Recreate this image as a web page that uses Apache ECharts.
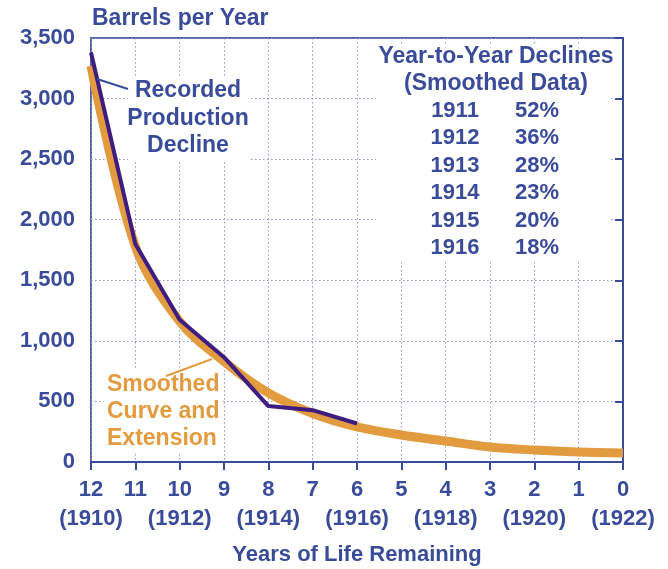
<!DOCTYPE html>
<html>
<head>
<meta charset="utf-8">
<script src="https://cdn.jsdelivr.net/npm/echarts@6/dist/echarts.min.js"></script>
<style>
  html, body { margin: 0; padding: 0; background: #fff; }
  #main { width: 668px; height: 569px; }
</style>
</head>
<body>
<div id="main"></div>
<script>
// years of life remaining (x axis, drawn right to left)
var yearsLeft = [12, 11, 10, 9, 8, 7, 6, 5, 4, 3, 2, 1, 0];
var calendarLabels = ['(1910)', '', '(1912)', '', '(1914)', '', '(1916)', '', '(1918)', '', '(1920)', '', '(1922)'];

// recorded production 1910-1916
var recordedYears = [12, 11, 10, 9, 8, 7, 6];
var recorded = [3380, 1800, 1175, 865, 462, 428, 318];

// smoothed curve and extension 1910-1922
var smoothed = [3270, 1780, 1160, 830, 570, 400, 289, 223, 173, 124, 99, 83, 74];

// table of year-to-year declines
var declineYears = ['1911', '1912', '1913', '1914', '1915', '1916'];
var declinePct = ['52%', '36%', '28%', '23%', '20%', '18%'];

var blue = '#394b99';
var orange = '#e39b40';
var purple = '#3e1c80';
var font = '"Liberation Sans", Arial, sans-serif';

window.onload = function () {
    var myChart = echarts.init(document.getElementById('main'));

    var recordedData = recordedYears.map(function (x, i) { return [x, recorded[i]]; });
    var smoothedData = yearsLeft.map(function (x, i) { return [x, smoothed[i]]; });

    var graphics = [];
    // title of y axis
    graphics.push({
        type: 'text', x: 92, y: 19, z: 100,
        style: { text: 'Barrels per Year', font: 'bold 23px ' + font, fill: blue, align: 'left', verticalAlign: 'middle' }
    });
    // white boxes behind the notes
    graphics.push({ type: 'rect', z: 90, shape: { x: 128, y: 76, width: 122, height: 84 }, style: { fill: '#fff' } });
    graphics.push({ type: 'rect', z: 90, shape: { x: 104, y: 370, width: 118, height: 82 }, style: { fill: '#fff' } });
    graphics.push({ type: 'rect', z: 90, shape: { x: 376, y: 44, width: 234, height: 218 }, style: { fill: '#fff' } });

    // recorded production note
    ['Recorded', 'Production', 'Decline'].forEach(function (t, i) {
        graphics.push({
            type: 'text', x: 188, y: 91 + i * 27.5, z: 100,
            style: { text: t, font: 'bold 23px ' + font, fill: blue, align: 'center', verticalAlign: 'middle' }
        });
    });
    graphics.push({ type: 'line', z: 100, shape: { x1: 97, y1: 79, x2: 128, y2: 89 }, style: { stroke: blue, lineWidth: 2 } });

    // smoothed curve note
    ['Smoothed', 'Curve and', 'Extension'].forEach(function (t, i) {
        graphics.push({
            type: 'text', x: 107, y: 385 + i * 27, z: 100,
            style: { text: t, font: 'bold 23px ' + font, fill: orange, align: 'left', verticalAlign: 'middle' }
        });
    });
    graphics.push({ type: 'line', z: 100, shape: { x1: 166, y1: 376, x2: 212, y2: 359 }, style: { stroke: orange, lineWidth: 2 } });

    // declines table
    graphics.push({
        type: 'text', x: 496, y: 57, z: 100,
        style: { text: 'Year-to-Year Declines', font: 'bold 23px ' + font, fill: blue, align: 'center', verticalAlign: 'middle' }
    });
    graphics.push({
        type: 'text', x: 496, y: 84, z: 100,
        style: { text: '(Smoothed Data)', font: 'bold 23px ' + font, fill: blue, align: 'center', verticalAlign: 'middle' }
    });
    declineYears.forEach(function (yr, i) {
        graphics.push({
            type: 'text', x: 455, y: 111 + i * 27.4, z: 100,
            style: { text: yr, font: 'bold 22px ' + font, fill: blue, align: 'center', verticalAlign: 'middle' }
        });
        graphics.push({
            type: 'text', x: 537, y: 111 + i * 27.4, z: 100,
            style: { text: declinePct[i], font: 'bold 22px ' + font, fill: blue, align: 'center', verticalAlign: 'middle' }
        });
    });

    var gridLine = { show: true, lineStyle: { color: '#8e97cf', type: [1.5, 2.5], width: 1 } };

    var option = {
        backgroundColor: '#fff',
        animation: false,
        grid: {
            left: 91, right: 45, top: 38, bottom: 107,
            outerBoundsMode: 'none', containLabel: false,
            show: true, borderColor: '#5563a8', borderWidth: 2, backgroundColor: 'transparent'
        },
        xAxis: {
            type: 'value', min: 0, max: 12, interval: 1, inverse: true,
            name: 'Years of Life Remaining', nameLocation: 'middle', nameGap: 82,
            nameTextStyle: { color: blue, fontFamily: font, fontWeight: 'bold', fontSize: 22 },
            axisLine: { lineStyle: { color: blue, width: 2 } },
            axisTick: { length: 8, lineStyle: { color: blue, width: 2 } },
            axisLabel: {
                color: blue, fontFamily: font, fontWeight: 'bold', fontSize: 22, lineHeight: 29, margin: 13,
                formatter: function (v) {
                    var i = yearsLeft.indexOf(v);
                    return calendarLabels[i] ? v + '\n' + calendarLabels[i] : String(v) + '\n ';
                }
            },
            splitLine: gridLine
        },
        yAxis: {
            type: 'value', min: 0, max: 3500, interval: 500,
            axisLine: { show: true, lineStyle: { color: blue, width: 2 } },
            axisTick: { show: true, length: 8, lineStyle: { color: blue, width: 2 } },
            axisLabel: {
                color: blue, fontFamily: font, fontWeight: 'bold', fontSize: 22, margin: 16,
                formatter: function (v) { return v.toLocaleString('en-US'); }
            },
            splitLine: gridLine
        },
        series: [
            {
                name: 'Smoothed Curve and Extension',
                type: 'line', data: smoothedData, smooth: 0.35, symbol: 'none',
                lineStyle: { color: orange, width: 9, cap: 'butt' }, z: 3
            },
            {
                name: 'Recorded Production Decline',
                type: 'line', data: recordedData, smooth: false, symbol: 'none',
                lineStyle: { color: purple, width: 4 }, z: 4
            }
        ],
        graphic: graphics
    };

    myChart.setOption(option);
};
</script>
</body>
</html>
